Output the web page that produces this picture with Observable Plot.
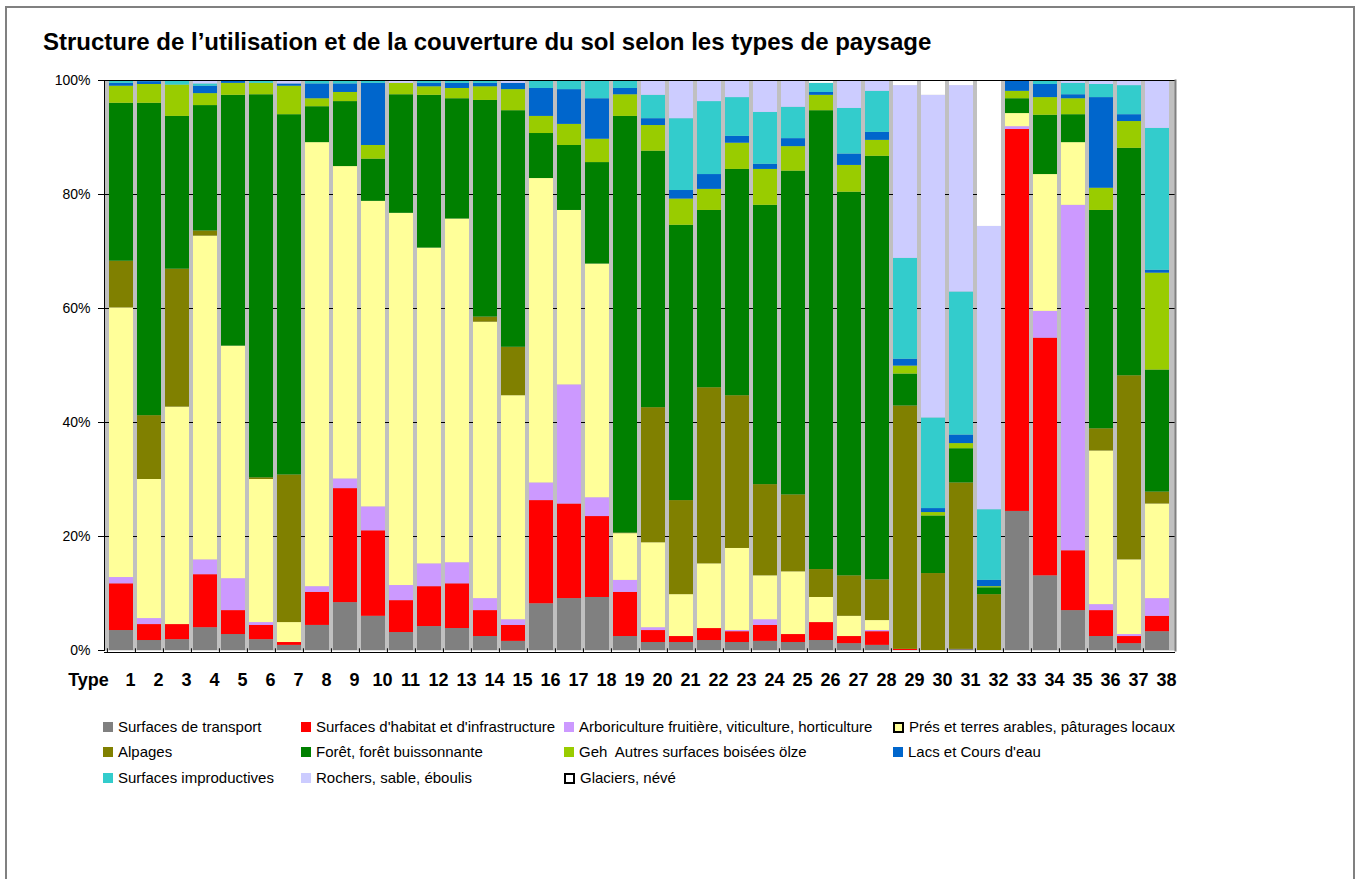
<!DOCTYPE html>
<html>
<head>
<meta charset="utf-8">
<script src="https://cdn.jsdelivr.net/npm/d3@7"></script>
<script src="https://cdn.jsdelivr.net/npm/@observablehq/plot@0.6"></script>
<style>
  body { margin: 0; background: #fff; font-family: "Liberation Sans", Arial, sans-serif; }
  #page { position: relative; width: 1362px; height: 879px; overflow: hidden; background: #fff; }
  #border { position: absolute; left: 5px; top: 6px; width: 1350px; height: 920px; border: 2px solid #808080; box-sizing: border-box; }
  #title { position: absolute; left: 43px; top: 30px; font-size: 24px; line-height: 24px; font-weight: bold; white-space: nowrap; color: #000; }
  #chart { position: absolute; left: 0; top: 0; }
  .leg { position: absolute; height: 20px; line-height: 20px; font-size: 15px; white-space: pre; display: flex; align-items: center; color: #000; }
  .sw { width: 10px; height: 10px; margin-right: 5px; box-sizing: border-box; flex: none; }
  .sw.bord { width: 11px; height: 11px; border: 2px solid #000; }
</style>
</head>
<body>
<div id="page">
  <div id="border"></div>
  <div id="title">Structure de l’utilisation et de la couverture du sol selon les types de paysage</div>
  <div id="chart"></div>
</div>
<script>
// Categories (x axis)
const types = ["1","2","3","4","5","6","7","8","9","10","11","12","13","14","15","16","17","18","19","20",
               "21","22","23","24","25","26","27","28","29","30","31","32","33","34","35","36","37","38"];

// Series names (stack order, bottom to top)
const cats = [
  "Surfaces de transport",
  "Surfaces d'habitat et d'infrastructure",
  "Arboriculture fruitière, viticulture, horticulture",
  "Prés et terres arables, pâturages locaux",
  "Alpages",
  "Forêt, forêt buissonnante",
  "Geh  Autres surfaces boisées ölze",
  "Lacs et Cours d'eau",
  "Surfaces improductives",
  "Rochers, sable, éboulis",
  "Glaciers, névé"
];
const colors = ["#808080","#ff0000","#cc99ff","#ffff99","#808000","#008000","#99cc00","#0066cc","#33cccc","#ccccff","#ffffff"];

// Series values (% of area per type)
const transport = [3.5,1.75,1.9,4.0,2.8,1.9,0.9,4.4,8.4,6.0,3.15,4.2,3.85,2.45,1.6,8.2,9.1,9.3,2.45,1.4,1.4,1.75,1.4,1.6,1.4,1.75,1.2,0.9,0,0,0.2,0,24.4,13.1,7.0,2.45,1.2,3.3];
const habitat   = [8.2,2.8,2.65,9.3,4.2,2.5,0.5,5.8,20.0,15.0,5.6,7.0,7.85,4.55,2.8,18.1,16.6,14.2,7.75,2.1,1.05,2.1,1.9,2.8,1.4,3.15,1.25,2.4,0.2,0,0,0,67.0,41.7,10.5,4.55,1.25,2.7];
const arbo      = [1.1,1.05,0,2.6,5.6,0.5,0,1.0,1.7,4.2,2.65,4.0,3.7,2.1,1.0,3.1,20.9,3.3,2.1,0.5,0,0,0.2,1.0,0,0,0,0.2,0,0,0,0,0.5,4.7,60.6,1.05,0.35,3.1];
const pres      = [47.3,24.4,38.15,56.8,40.8,25.1,3.5,77.9,54.8,53.6,65.3,55.4,60.3,48.5,39.3,53.4,30.6,41.0,8.2,14.9,7.35,11.35,14.4,7.7,11.0,4.4,3.55,1.75,0,0,0,0,2.3,24.0,11.0,26.95,13.1,16.6];
const alpages   = [8.2,11.2,24.2,0.9,0,0.3,25.9,0,0,0,0,0,0,0.9,8.5,0,0,0,0.1,23.7,16.5,30.9,26.8,16.0,13.5,4.9,7.1,7.15,42.7,13.5,29.2,9.8,0,0,0,3.9,32.3,2.1];
const foret     = [27.7,54.8,26.8,22.0,44.0,67.2,63.2,6.3,11.4,7.4,20.8,26.8,21.1,38.0,41.5,7.9,11.4,17.8,73.1,45.0,48.3,31.1,39.7,49.0,56.8,80.5,67.3,74.3,5.6,10.1,6.0,1.2,2.6,10.4,4.9,38.3,39.9,21.4];
const geh       = [3.0,3.3,5.5,2.1,2.1,2.0,5.0,1.4,1.6,2.4,2.0,1.5,1.8,2.4,3.7,3.0,3.7,4.1,3.8,4.5,4.6,3.7,4.6,6.3,4.3,2.7,4.7,2.8,1.4,0.6,0.9,0.2,1.3,3.1,2.8,3.9,4.7,17.0];
const lacs      = [0.5,0.5,0,1.3,0.5,0,0.4,2.6,1.5,10.9,0,0.6,0.9,0.6,1.1,4.9,6.1,7.1,1.1,1.2,1.5,2.6,1.2,0.9,1.4,0.5,2.0,1.4,1.2,0.7,1.5,1.1,1.9,2.3,0.7,15.9,1.2,0.5];
const improd    = [0.5,0.2,0.8,0.4,0,0.5,0,0.6,0.6,0.5,0,0.5,0.5,0.5,0,1.4,1.6,3.2,1.4,4.1,12.6,12.8,6.8,9.1,5.5,1.6,8.0,7.2,17.7,15.9,25.1,12.4,0,0.7,2.0,2.3,5.1,24.9];
const rochers   = [0,0,0,0.6,0,0,0.6,0,0,0,0.5,0,0,0,0.5,0,0,0,0,2.6,6.7,3.7,3.0,5.6,4.7,0,4.9,1.9,30.3,56.6,36.2,49.7,0,0,0.5,0.7,0.9,8.4];
const glaciers  = [0,0,0,0,0,0,0,0,0,0,0,0,0,0,0,0,0,0,0,0,0,0,0,0,0,0.5,0,0,0.9,2.6,0.9,25.6,0,0,0,0,0,0];

// Axis tick values
const yTicks = [0, 20, 40, 60, 80, 100];
const gridTicks = [20, 40, 60, 80];

const series = [transport, habitat, arbo, pres, alpages, foret, geh, lacs, improd, rochers, glaciers];
const data = [];
types.forEach((t, i) => {
  series.forEach((s, j) => data.push({type: t, cat: cats[j], value: s[i]}));
});

const chart = Plot.plot({
  width: 1362,
  height: 700,
  marginTop: 80,
  marginBottom: 50,
  marginLeft: 104,
  marginRight: 187,
  style: {fontFamily: '"Liberation Sans", Arial, sans-serif', background: "transparent", color: "#000", overflow: "visible"},
  x: {domain: types, paddingInner: 0.14, paddingOuter: 0.07, axis: null},
  y: {domain: [0, 100], axis: null},
  color: {domain: cats, range: colors},
  marks: [
    Plot.frame({fill: "#c0c0c0"}),
    Plot.ruleY(gridTicks, {stroke: "#000", strokeWidth: 1}),
    Plot.barY(data, {x: "type", y: "value", fill: "cat"}),
    Plot.ruleY([100], {stroke: "#000", strokeWidth: 1}),
    Plot.frame({anchor: "right", stroke: "#808080", strokeWidth: 2}),
    Plot.ruleY([0], {stroke: "#000", dy: 2}),
    Plot.frame({anchor: "left", stroke: "#000"}),
    Plot.ruleX(types, {x: d => d, y1: -0.5, y2: 0.3, dx: -14.09, stroke: "#000"}),
    Plot.axisY({ticks: yTicks, tickFormat: d => d + "%", tickSize: 6, tickPadding: 8, fontSize: 14, label: null}),
    Plot.axisX({tickSize: 0, tickPadding: 23, dx: 9, fontSize: 18, fontWeight: "bold", label: null}),
    Plot.text(["Type"], {text: d => d, frameAnchor: "bottom-left", textAnchor: "middle", lineAnchor: "top", dx: -16, dy: 23, fontSize: 18, fontWeight: "bold"})
  ]
});
document.getElementById("chart").appendChild(chart);

// Legend
const legendPos = [
  [103, 727], [301, 727], [564, 727], [893, 727],
  [103, 752], [301, 752], [564, 752], [893, 752],
  [103, 778], [301, 778], [564, 778]
];
const page = document.getElementById("page");
cats.forEach((c, i) => {
  const item = document.createElement("div");
  item.className = "leg";
  item.style.left = legendPos[i][0] + "px";
  item.style.top = (legendPos[i][1] - 10) + "px";
  const sw = document.createElement("span");
  sw.className = "sw" + ((i === 3 || i === 10) ? " bord" : "");
  sw.style.background = colors[i];
  const tx = document.createElement("span");
  tx.textContent = c;
  item.appendChild(sw);
  item.appendChild(tx);
  page.appendChild(item);
});
</script>
</body>
</html>
